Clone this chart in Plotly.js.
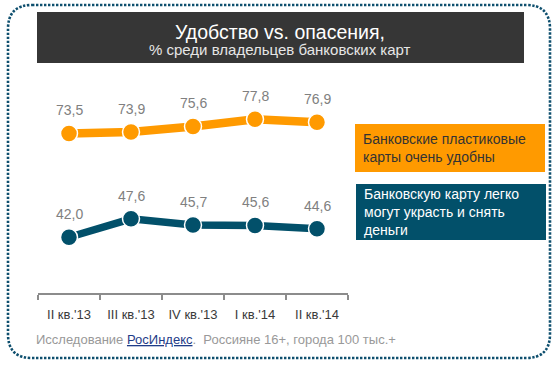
<!DOCTYPE html>
<html>
<head>
<meta charset="utf-8">
<script src="https://cdn.plot.ly/plotly-3.0.1.min.js"></script>
<style>
html,body{margin:0;padding:0;background:#fff;}
#chart{width:553px;height:365px;}
</style>
</head>
<body>
<div id="chart"></div>
<script>
var categories = ["II кв.'13", "III кв.'13", "IV кв.'13", "I кв.'14", "II кв.'14"];
var convenient = [73.5, 73.9, 75.6, 77.8, 76.9];
var stealable = [42.0, 47.6, 45.7, 45.6, 44.6];
var seriesNames = ["Банковские пластиковые<br>карты очень удобны", "Банковскую карту легко<br>могут украсть и снять<br>деньги"];
var labelsConvenient = ["73,5", "73,9", "75,6", "77,8", "76,9"];
var labelsStealable = ["42,0", "47,6", "45,7", "45,6", "44,6"];

var W = 553, H = 365;
var M = {l: 38, r: 205, t: 80, b: 72};
var pw = W - M.l - M.r, ph = H - M.t - M.b;
function px(x){ return (x - M.l) / pw; }
function py(y){ return 1 - (y - M.t) / ph; }

var ORANGE = '#FF9A00', TEAL = '#02506A';
var FONT = 'Liberation Sans, Arial, sans-serif';

var traces = [
  {x: categories, y: convenient, type: 'scatter', mode: 'lines+markers', name: 'a',
   line: {color: ORANGE, width: 8.5}, marker: {color: ORANGE, size: 17, line: {color: '#fff', width: 1.5}}, hoverinfo: 'none'},
  {x: categories, y: stealable, type: 'scatter', mode: 'lines+markers', name: 'b',
   line: {color: TEAL, width: 7.5}, marker: {color: TEAL, size: 17, line: {color: '#fff', width: 1.5}}, hoverinfo: 'none'}
];

var annotations = [];
function addLabels(vals, labels){
  for (var i = 0; i < vals.length; i++) {
    annotations.push({x: categories[i], y: vals[i], xref: 'x', yref: 'y', text: labels[i], showarrow: false,
      xanchor: 'center', yanchor: 'middle',
      yshift: 23, font: {family: FONT, size: 14, color: '#808080'}});
  }
}
addLabels(convenient, labelsConvenient);
addLabels(stealable, labelsStealable);

// title
annotations.push({xref: 'paper', yref: 'paper', x: px(280), y: py(32), xanchor: 'center', yanchor: 'middle',
  text: 'Удобство vs. опасения,', showarrow: false,
  font: {family: FONT, size: 19.5, color: '#ffffff'}});
annotations.push({xref: 'paper', yref: 'paper', x: px(280), y: py(50), xanchor: 'center', yanchor: 'middle',
  text: '% среди владельцев банковских карт', showarrow: false,
  font: {family: FONT, size: 15, color: '#e6e6e6'}});
// legend boxes text
annotations.push({xref: 'paper', yref: 'paper', x: px(361), y: py(148), xanchor: 'left', yanchor: 'middle', align: 'left',
  text: seriesNames[0], showarrow: false,
  font: {family: FONT, size: 14, color: '#333333'}});
annotations.push({xref: 'paper', yref: 'paper', x: px(362), y: py(212), xanchor: 'left', yanchor: 'middle', align: 'left',
  text: seriesNames[1], showarrow: false,
  font: {family: FONT, size: 14, color: '#ffffff'}});
// footer
annotations.push({xref: 'paper', yref: 'paper', x: px(34), y: py(339), xanchor: 'left', yanchor: 'middle', showarrow: false,
  text: 'Исследование <span style="color:#1F3C88"><u>РосИндекс</u></span>.  Россияне 16+, города 100 тыс.+',
  font: {family: FONT, size: 13, color: '#999999'}});

// rounded dotted border path (in paper coords)
var bx0 = 8, by0 = 5, bx1 = 550, by1 = 358, rr = 24;
function P(x, y){ return px(x) + ',' + py(y); }
var borderPath = 'M ' + P(bx0 + rr, by0) + ' L ' + P(bx1 - rr, by0) +
  ' Q ' + P(bx1, by0) + ' ' + P(bx1, by0 + rr) +
  ' L ' + P(bx1, by1 - rr) + ' Q ' + P(bx1, by1) + ' ' + P(bx1 - rr, by1) +
  ' L ' + P(bx0 + rr, by1) + ' Q ' + P(bx0, by1) + ' ' + P(bx0, by1 - rr) +
  ' L ' + P(bx0, by0 + rr) + ' Q ' + P(bx0, by0) + ' ' + P(bx0 + rr, by0) + ' Z';

var shapes = [
  {type: 'path', xref: 'paper', yref: 'paper', path: borderPath, line: {color: '#0E4F6E', width: 2.6, dash: '2.4px,1.6px'}, layer: 'below'},
  {type: 'rect', xref: 'paper', yref: 'paper', x0: px(37), x1: px(524), y0: py(12), y1: py(63), fillcolor: '#363636', line: {width: 0}, layer: 'below'},
  {type: 'rect', xref: 'paper', yref: 'paper', x0: px(355), x1: px(545), y0: py(124), y1: py(172), fillcolor: ORANGE, line: {width: 0}, layer: 'below'},
  {type: 'rect', xref: 'paper', yref: 'paper', x0: px(356), x1: px(546), y0: py(184), y1: py(240), fillcolor: TEAL, line: {width: 0}, layer: 'below'}
];

var layout = {
  width: W, height: H,
  margin: M,
  paper_bgcolor: '#ffffff', plot_bgcolor: 'rgba(0,0,0,0)',
  showlegend: false,
  font: {family: FONT},
  xaxis: {type: 'category', range: [-0.5, 4.5], tickson: 'boundaries', ticks: 'outside', ticklen: 5,
    tickcolor: '#8c8c8c', tickwidth: 1.5, showline: true, linecolor: '#8c8c8c', linewidth: 1.5,
    showgrid: false, zeroline: false, fixedrange: true, ticklabelstandoff: 9,
    tickfont: {family: FONT, size: 13, color: '#3a3a3a'}},
  yaxis: {range: [25.1, 89.7], visible: false, showgrid: false, zeroline: false, fixedrange: true},
  shapes: shapes,
  annotations: annotations
};

Plotly.newPlot('chart', traces, layout, {staticPlot: true, displayModeBar: false});
</script>
</body>
</html>
